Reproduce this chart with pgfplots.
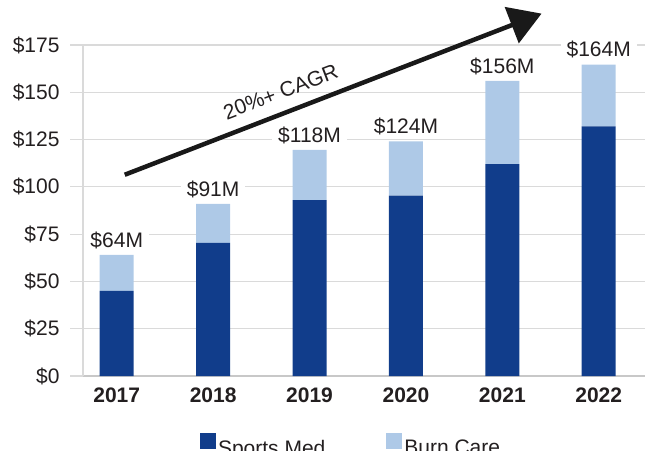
\documentclass[border=0pt]{standalone}
\usepackage{fontspec}
\setmainfont{Liberation Sans}
\usepackage{pgfplots}
\pgfplotsset{compat=1.18}
\usetikzlibrary{arrows.meta}
\definecolor{darkbar}{RGB}{17,61,139}
\definecolor{lightbar}{RGB}{174,201,231}
\definecolor{gridc}{RGB}{218,218,218}
\definecolor{axc}{RGB}{200,200,200}
\definecolor{txt}{RGB}{35,31,32}
\newcommand{\fnt}{\fontsize{21}{25}\selectfont}
\begin{document}
\begin{tikzpicture}[x=1pt,y=1pt]
\useasboundingbox (0,0) rectangle (645,450);
\begin{axis}[
  at={(83pt,74pt)}, anchor=south west,
  scale only axis, width=562pt, height=331pt,
  ybar stacked, bar width=34pt,
  xmin=-0.35, xmax=5.48, ymin=0, ymax=175,
  xtick={0,1,2,3,4,5},
  xticklabels={2017,2018,2019,2020,2021,2022},
  x tick label style={font=\fnt\bfseries, text=txt, yshift=5pt},
  ytick={0,25,50,75,100,125,150,175},
  yticklabel={\$\pgfmathprintnumber{\tick}},
  y tick label style={font=\fnt, text=txt, xshift=-7pt},
  /pgf/number format/assume math mode=true,
  ymajorgrids, grid style={gridc, line width=1.2pt},
  axis lines*=left,
  axis line style={gridc, line width=1.2pt},
  x axis line style={axc, line width=1.4pt},
  tick align=outside,
  major tick length=13pt,
  ytick style={gridc, line width=1.2pt},
  xtick style={draw=none},
  clip=false,
  legend columns=2,
  legend style={at={(0.477,-0.166)}, anchor=north, draw=none, fill=none,
    font=\fnt, text=txt,
    /tikz/every even column/.append style={column sep=59pt}},
  legend image code/.code={\fill[#1] (0pt,-1pt) rectangle (16pt,15pt);},
]
\addplot[fill=darkbar, draw=none] coordinates {(0,45) (1,70.4) (2,93) (3,95.4) (4,112) (5,132)};
\addlegendentry{Sports Med}
\addplot[fill=lightbar, draw=none] coordinates {(0,19) (1,20.6) (2,26.6) (3,28.6) (4,44) (5,32.6)};
\addlegendentry{Burn Care}
\addplot[draw=none, fill=none, forget plot,
  point meta=explicit symbolic,
  nodes near coords,
  every node near coord/.append style={font=\fnt, text=txt,
    fill=white, inner xsep=6pt, inner ysep=2pt, text height=15pt, text depth=1.5pt,
    anchor=south, yshift=4pt}]
  coordinates {(0,0.01)[\$64M] (1,0.01)[\$91M] (2,0.01)[\$118M] (3,0.01)[\$124M] (4,0.01)[\$156M] (5,0.01)[\$164M]};
\draw[line width=4.5pt, black!90, -{Triangle[length=32pt,width=38pt]}]
  (axis cs:0.083,106.4) -- (axis cs:4.407,191.6);
\node[rotate=21, font=\fnt, text=txt] at (axis cs:1.70,150.3) {20\%+ CAGR};
\end{axis}
\end{tikzpicture}
\end{document}
